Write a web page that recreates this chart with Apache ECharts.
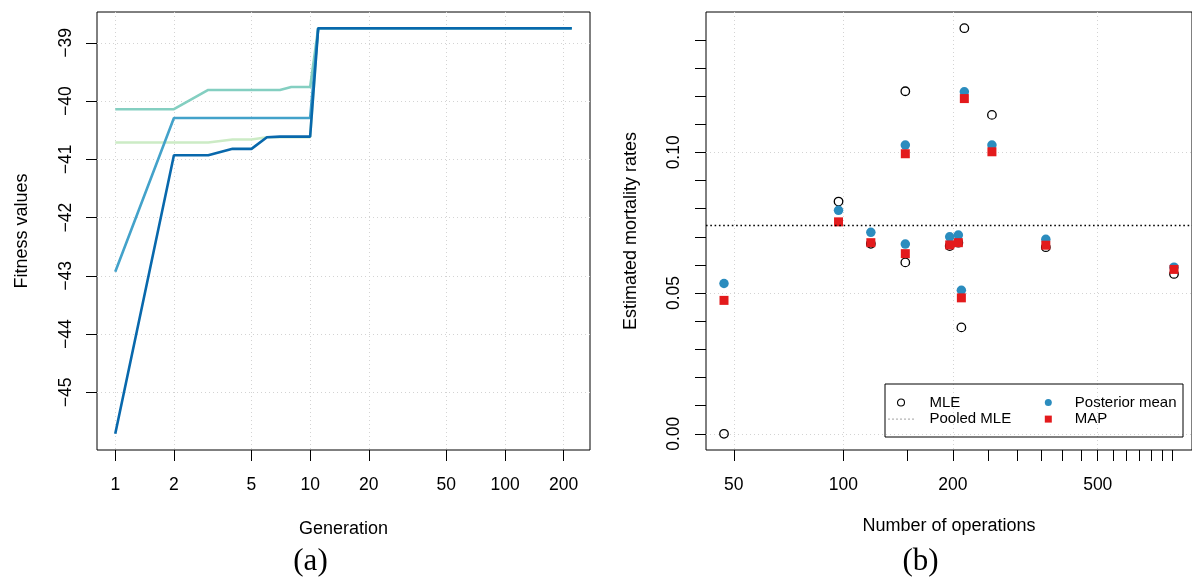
<!DOCTYPE html>
<html><head><meta charset="utf-8">
<script src="https://cdn.jsdelivr.net/npm/echarts@6/dist/echarts.min.js"></script>
<style>html,body{margin:0;padding:0;background:#fff}#c{width:1192px;height:581px}</style>
</head><body><div id="c"></div>
<script>
// ---------- Panel (a): fitness values by generation ----------
const generations = [1, 2, 3, 4, 5, 6, 7, 8, 9, 10, 11, 220];
const fitnessRun1 = [-40.71, -40.71, -40.71, -40.66, -40.66, -40.62, -40.62, -40.62, -40.62, -40.62, -38.75, -38.75];
const fitnessRun2 = [-40.14, -40.14, -39.81, -39.81, -39.81, -39.81, -39.81, -39.76, -39.76, -39.76, -38.75, -38.75];
const fitnessRun3 = [-42.93, -40.29, -40.29, -40.29, -40.29, -40.29, -40.29, -40.29, -40.29, -40.29, -38.75, -38.75];
const fitnessRun4 = [-45.71, -40.93, -40.93, -40.82, -40.82, -40.62, -40.61, -40.61, -40.61, -40.61, -38.75, -38.75];
const generationTicks = [1, 2, 5, 10, 20, 50, 100, 200];
const fitnessTicks = [-45, -44, -43, -42, -41, -40, -39];

// ---------- Panel (b): mortality rates by number of operations ----------
const operations    = [47, 97, 119, 148, 148, 196, 207, 211, 215, 256, 360, 810];
const mle           = [0.0000, 0.0825, 0.0675, 0.1217, 0.0609, 0.0667, 0.0679, 0.0378, 0.1441, 0.1133, 0.0663, 0.0568];
const posteriorMean = [0.0534, 0.0794, 0.0716, 0.1026, 0.0674, 0.0700, 0.0706, 0.0510, 0.1215, 0.1026, 0.0691, 0.0592];
const mapEstimate   = [0.0474, 0.0753, 0.0679, 0.0995, 0.0640, 0.0671, 0.0679, 0.0483, 0.1191, 0.1002, 0.0670, 0.0584];
const pooledMLE = 0.0740;
const operationLabelTicks = [50, 100, 200, 500];
const operationMinorTicks = [50, 100, 150, 200, 250, 300, 350, 400, 450, 500, 550, 600, 650, 700, 750, 800];
const rateLabelTicks = [0, 0.05, 0.10];
const rateMinorTicks = [0, 0.01, 0.02, 0.03, 0.04, 0.05, 0.06, 0.07, 0.08, 0.09, 0.10, 0.11, 0.12, 0.13, 0.14];

// R-style 4% axis expansion
function padLin(arr) {
  const lo = Math.min(...arr), hi = Math.max(...arr), r = hi - lo;
  return [lo - 0.04 * r, hi + 0.04 * r];
}
function padLog(arr) {
  const lo = Math.log10(Math.min(...arr)), hi = Math.log10(Math.max(...arr)), r = hi - lo;
  return [Math.pow(10, lo - 0.04 * r), Math.pow(10, hi + 0.04 * r)];
}
const allFitness = fitnessRun1.concat(fitnessRun2, fitnessRun3, fitnessRun4);
const genRange = padLog(generations);
const fitRange = padLin(allFitness);
const opRange = padLog(operations);
const rateRange = padLin(mle.concat(posteriorMean, mapEstimate));

const FONT = 'Liberation Sans, Arial, Helvetica, sans-serif';
const gridLine = { show: true, lineStyle: { color: '#d3d3d3', type: [1, 3], width: 1 } };
const tickStyle = { color: '#000', width: 1 };
const pair = (xs, ys) => xs.map((x, i) => [x, ys[i]]);
const minus = v => (v < 0 ? '\u2212' : '') + Math.abs(v);

const chart = echarts.init(document.getElementById('c'), null, { renderer: 'canvas' });
chart.setOption({
  animation: false,
  backgroundColor: '#fff',
  textStyle: { fontFamily: FONT },
  grid: [
    { left: 97, top: 12, width: 493, height: 438, show: true, borderColor: '#000', borderWidth: 1, backgroundColor: 'transparent' },
    { left: 706, top: 12, width: 492, height: 438, show: true, borderColor: '#000', borderWidth: 1, backgroundColor: 'transparent' }
  ],
  xAxis: [
    {
      type: 'log', logBase: 10, gridIndex: 0, position: 'bottom', min: genRange[0], max: genRange[1],
      axisLine: { show: false, onZero: false },
      axisTick: { show: true, length: 11, lineStyle: tickStyle, customValues: generationTicks },
      axisLabel: { customValues: generationTicks, margin: 26, fontSize: 17.5, color: '#000', fontFamily: FONT, formatter: v => String(Math.round(v)) },
      splitLine: gridLine, minorTick: { show: false }, minorSplitLine: { show: false },
      name: 'Generation', nameLocation: 'middle', nameGap: 70,
      nameTextStyle: { fontSize: 18, color: '#000', fontFamily: FONT }
    },
    {
      type: 'log', logBase: 10, gridIndex: 1, position: 'bottom', min: opRange[0], max: opRange[1],
      axisLine: { show: false, onZero: false },
      axisTick: { show: true, length: 11, lineStyle: tickStyle, customValues: operationLabelTicks },
      axisLabel: { customValues: operationLabelTicks, margin: 26, fontSize: 17.5, color: '#000', fontFamily: FONT, formatter: v => String(Math.round(v)) },
      splitLine: gridLine, minorTick: { show: false }, minorSplitLine: { show: false },
      name: 'Number of operations', nameLocation: 'middle', nameGap: 67,
      nameTextStyle: { fontSize: 18, color: '#000', fontFamily: FONT }
    },
    {
      type: 'log', logBase: 10, gridIndex: 1, position: 'bottom', offset: 0, min: opRange[0], max: opRange[1],
      axisLine: { show: false, onZero: false },
      axisTick: { show: true, length: 11, lineStyle: tickStyle, customValues: operationMinorTicks },
      axisLabel: { show: false }, splitLine: { show: false }
    }
  ],
  yAxis: [
    {
      type: 'value', gridIndex: 0, position: 'left', min: fitRange[0], max: fitRange[1],
      axisLine: { show: false, onZero: false },
      axisTick: { show: true, length: 11, lineStyle: tickStyle, customValues: fitnessTicks },
      axisLabel: { customValues: fitnessTicks, rotate: 90, margin: 22, fontSize: 17.5, color: '#000', fontFamily: FONT, formatter: minus },
      splitLine: gridLine,
      name: 'Fitness values', nameLocation: 'middle', nameGap: 66, nameRotate: 90,
      nameTextStyle: { fontSize: 18, color: '#000', fontFamily: FONT }
    },
    {
      type: 'value', gridIndex: 1, position: 'left', min: rateRange[0], max: rateRange[1],
      axisLine: { show: false, onZero: false },
      axisTick: { show: true, length: 11, lineStyle: tickStyle, customValues: rateLabelTicks },
      axisLabel: { customValues: rateLabelTicks, rotate: 90, margin: 23, fontSize: 17.5, color: '#000', fontFamily: FONT, formatter: v => v.toFixed(2) },
      splitLine: gridLine,
      name: 'Estimated mortality rates', nameLocation: 'middle', nameGap: 66, nameRotate: 90,
      nameTextStyle: { fontSize: 18, color: '#000', fontFamily: FONT }
    },
    {
      type: 'value', gridIndex: 1, position: 'left', offset: 0, min: rateRange[0], max: rateRange[1],
      axisLine: { show: false, onZero: false },
      axisTick: { show: true, length: 11, lineStyle: tickStyle, customValues: rateMinorTicks },
      axisLabel: { show: false }, splitLine: { show: false }
    }
  ],
  legend: [
    {
      orient: 'vertical', left: 888, top: 395, padding: 0, itemWidth: 25, itemHeight: 7, itemGap: 1.6,
      selectedMode: false, textStyle: { fontSize: 15, color: '#000', fontFamily: FONT, padding: [0, 0, 0, 11] },
      data: [
        { name: 'MLE', itemStyle: { borderWidth: 1.1 } },
        { name: 'Pooled MLE', itemStyle: { color: 'rgba(0,0,0,0)', borderWidth: 0, opacity: 0 }, lineStyle: { color: '#444', width: 1, type: [1, 3] } }
      ]
    },
    {
      orient: 'vertical', left: 1044.8, top: 395, padding: 0, itemWidth: 7, itemHeight: 7, itemGap: 1.6,
      selectedMode: false, textStyle: { fontSize: 15, color: '#000', fontFamily: FONT, padding: [0, 0, 0, 18] },
      data: [{ name: 'Posterior mean' }, { name: 'MAP', itemStyle: {} }]
    }
  ],
  graphic: [
    { type: 'rect', shape: { x: 885, y: 384, width: 298, height: 53 }, style: { fill: 'none', stroke: '#000', lineWidth: 1 }, z: 10 },
    { type: 'text', x: 310.5, y: 562, style: { text: '(a)', font: '31px "Liberation Serif", "DejaVu Serif", serif', fill: '#000', textAlign: 'center', textVerticalAlign: 'middle' } },
    { type: 'text', x: 920.5, y: 562, style: { text: '(b)', font: '31px "Liberation Serif", "DejaVu Serif", serif', fill: '#000', textAlign: 'center', textVerticalAlign: 'middle' } }
  ],
  series: [
    { type: 'line', name: 'Run 1', xAxisIndex: 0, yAxisIndex: 0, data: pair(generations, fitnessRun1), symbol: 'none', lineStyle: { color: '#ccebc5', width: 2.6 }, itemStyle: { color: '#ccebc5' } },
    { type: 'line', name: 'Run 2', xAxisIndex: 0, yAxisIndex: 0, data: pair(generations, fitnessRun2), symbol: 'none', lineStyle: { color: '#84cfc1', width: 2.6 }, itemStyle: { color: '#84cfc1' } },
    { type: 'line', name: 'Run 3', xAxisIndex: 0, yAxisIndex: 0, data: pair(generations, fitnessRun3), symbol: 'none', lineStyle: { color: '#43a2ca', width: 2.6 }, itemStyle: { color: '#43a2ca' } },
    { type: 'line', name: 'Run 4', xAxisIndex: 0, yAxisIndex: 0, data: pair(generations, fitnessRun4), symbol: 'none', lineStyle: { color: '#0868ac', width: 2.6 }, itemStyle: { color: '#0868ac' } },
    {
      type: 'scatter', name: 'MLE', xAxisIndex: 1, yAxisIndex: 1, data: pair(operations, mle),
      symbol: 'circle', symbolSize: 8.5, itemStyle: { color: 'rgba(255,255,255,0)', borderColor: '#000', borderWidth: 1.3, opacity: 1 }
    },
    {
      type: 'line', name: 'Pooled MLE', xAxisIndex: 1, yAxisIndex: 1,
      data: pair(opRange, [pooledMLE, pooledMLE]), symbol: 'none', silent: true,
      lineStyle: { color: '#000', width: 1.6, type: [1.6, 2.7] }, itemStyle: { color: '#000' }
    },
    {
      type: 'scatter', name: 'Posterior mean', xAxisIndex: 1, yAxisIndex: 1, data: pair(operations, posteriorMean),
      symbol: 'circle', symbolSize: 9.5, itemStyle: { color: '#2b8cbe', opacity: 1 }
    },
    {
      type: 'scatter', name: 'MAP', xAxisIndex: 1, yAxisIndex: 1, data: pair(operations, mapEstimate),
      symbol: 'rect', symbolSize: 9, itemStyle: { color: '#e31a1c', opacity: 1 }
    }
  ]
});
</script></body></html>
